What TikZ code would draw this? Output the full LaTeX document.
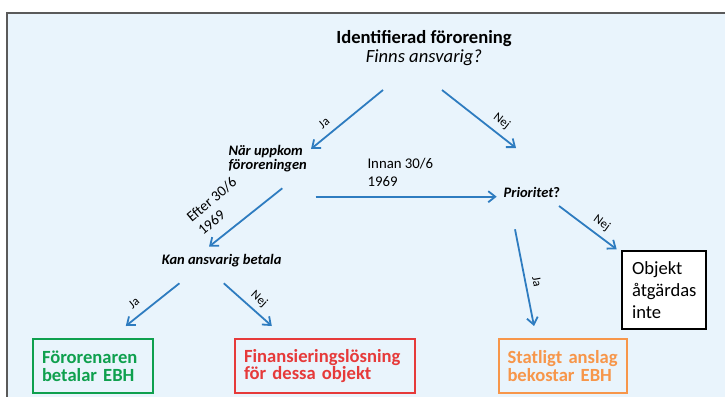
\documentclass[tikz,border=0pt]{standalone}
\usepackage{fontspec}
\setmainfont{Carlito}
\usetikzlibrary{arrows.meta}
\definecolor{panelbg}{HTML}{E9F4FC}
\definecolor{panelline}{HTML}{5A5A5A}
\definecolor{arrowblue}{HTML}{2E7CC0}
\definecolor{okgreen}{HTML}{0FA04E}
\definecolor{badred}{HTML}{E63A3A}
\definecolor{stateorange}{HTML}{F7964A}

\begin{document}
\begin{tikzpicture}[
    x=1pt, y=-1pt,
    plain/.style={inner sep=0pt, align=left, font=\fontsize{14.8}{17.6}\selectfont},
    question/.style={inner sep=0pt, align=left, font=\fontsize{14.5}{13.5}\selectfont\bfseries\itshape},
    lbl/.style={inner sep=0pt, font=\fontsize{12.5}{14}\selectfont},
    outcome/.style={
        draw,
        line width=1.5pt,
        align=left,
        inner xsep=9pt,
        inner ysep=0pt,
        minimum height=54pt,
        font=\fontsize{18.6}{17.6}\selectfont\bfseries
    },
    arrow/.style={-{Straight Barb[length=7pt,width=11pt]}, line width=1.8pt, arrowblue}
]
\useasboundingbox (0,0) rectangle (725,396);
\fill[white] (0,0) rectangle (725,396);
\draw[panelline, fill=panelbg, line width=1.5pt] (7,13) rectangle (745,420);

\node[align=center, inner sep=0pt, font=\fontsize{18.6}{18.4}\selectfont] (ident) at (424,48)
    {\textbf{Identifierad förorening}\\\textit{Finns ansvarig?}};
\node[question, anchor=base west] (naer) at (228.3,169) {När uppkom\\föroreningen};
\node[plain, anchor=base west] (innan) at (367.3,186.3) {Innan 30/6\\1969};
\node[question, anchor=base west] (prio) at (503.5,197.3) {Prioritet\textup{?}};
\node[plain, anchor=base west, rotate=40] (efter) at (203,236) {Efter 30/6\\1969};
\node[question, anchor=base west] (kan) at (161.7,264.3) {Kan ansvarig betala};

\node[outcome, draw=okgreen, text=okgreen, text width=102pt] (foerorenaren) at (93,366) {Förorenaren\\betalar EBH};
\node[outcome, draw=badred, text=badred, line width=2.8pt, text width=162pt] (finans) at (325,366) {Finansieringslösning\\för dessa objekt};
\node[outcome, draw=stateorange, text=stateorange, text width=111pt, inner xsep=8.5pt] (statligt) at (563,366) {Statligt anslag\\bekostar EBH};
\node[draw, fill=white, line width=1.8pt, align=left, text width=64pt, inner xsep=9.7pt, inner ysep=0pt,
    minimum height=78pt, font=\fontsize{18.6}{22}\selectfont] (objekt) at (664,290) {Objekt\\åtgärdas\\inte};

% ends of the connectors
\coordinate (identJa) at (383,90);
\coordinate (identNej) at (442,90);
\coordinate (naerIn) at (311,149);
\coordinate (prioIn) at (516,148);
\coordinate (naerEfter) at (282.3,188.3);
\coordinate (kanIn) at (209,246.7);
\coordinate (naerInnan) at (315.7,196.7);
\coordinate (prioInnan) at (496.7,196.7);
\coordinate (kanJa) at (179.4,283.3);
\coordinate (foerIn) at (125.8,326);
\coordinate (kanNej) at (223.8,283.3);
\coordinate (finansIn) at (271.8,326);
\coordinate (prioNej) at (559,206);
\coordinate (objektIn) at (616.7,249.3);
\coordinate (prioJa) at (515,229.3);
\coordinate (statligtIn) at (534,326);

\draw[arrow] (identJa) -- (naerIn);
\draw[arrow] (identNej) -- (prioIn);
\draw[arrow] (naerEfter) -- (kanIn);
\draw[arrow] (naerInnan) -- (prioInnan);
\draw[arrow] (kanJa) -- (foerIn);
\draw[arrow] (kanNej) -- (finansIn);
\draw[arrow] (prioNej) -- (objektIn);
\draw[arrow] (prioJa) -- (statligtIn);

\node[lbl, rotate=40] (jaIdent) at (324,123) {Ja};
\node[lbl, rotate=-38] (nejIdent) at (501.6,121.7) {Nej};
\node[lbl, rotate=39] (jaKan) at (134,303) {Ja};
\node[lbl, rotate=-42] (nejKan) at (259,299) {Nej};
\node[lbl, rotate=-36] (nejPrio) at (601.7,223.3) {Nej};
\node[lbl, rotate=-79.5] (jaPrio) at (537,282) {Ja};
\end{tikzpicture}
\end{document}
